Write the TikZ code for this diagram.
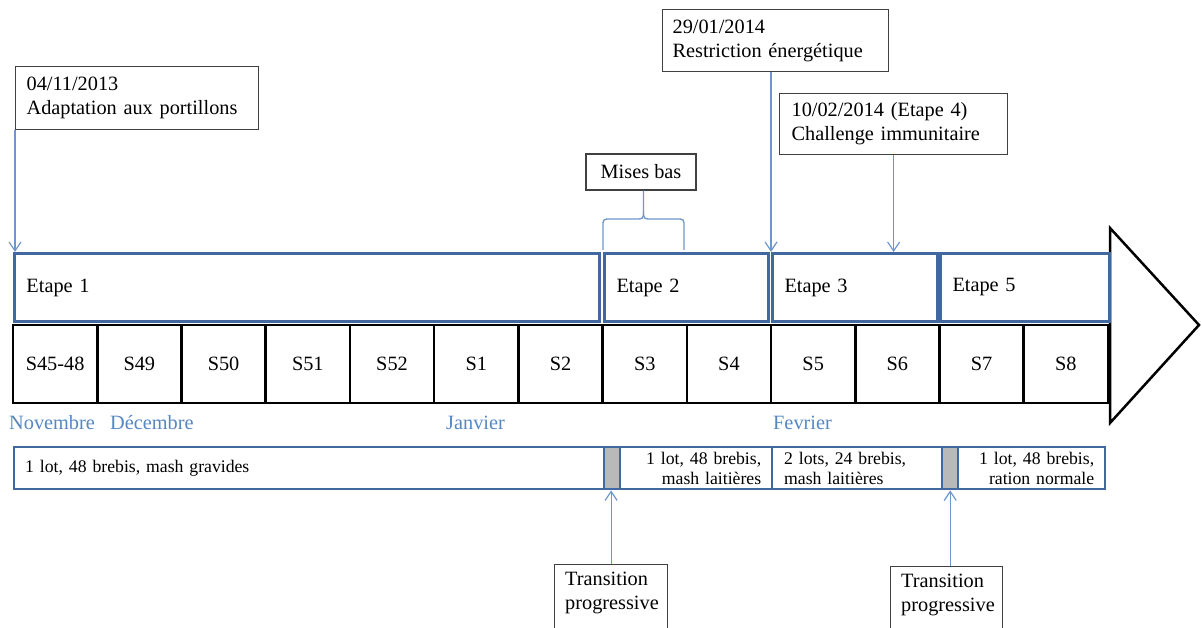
\documentclass[tikz,border=0pt]{standalone}
\usepackage{fontspec}
\setmainfont{Liberation Serif}
\newfontfamily\tnr{Liberation Serif}
\usetikzlibrary{arrows.meta,calc}
\definecolor{stepblue}{RGB}{65,105,160}
\definecolor{arrblue}{RGB}{110,150,205}
\definecolor{monthblue}{RGB}{85,135,195}
\begin{document}
\begin{tikzpicture}[x=1pt,y=-1pt,
  every node/.style={font=\tnr\fontsize{20.3}{24}\selectfont},
  callout/.style={draw=black!75, line width=1.2pt, align=left, anchor=north west, inner ysep=0pt},
  etape/.style={draw=stepblue, line width=3pt, anchor=north west, inner xsep=12pt, minimum height=68pt, align=left},
  week/.style={draw=black, line width=2.6pt, minimum width=84.23pt, minimum height=78pt},
  month/.style={text=monthblue, anchor=west, inner sep=0pt},
  lot/.style={draw=stepblue, line width=2.4pt, anchor=north west, minimum height=42pt, inner xsep=11pt, inner ysep=0pt, font=\tnr\fontsize{17.7}{20}\selectfont},
  greybox/.style={draw=stepblue, line width=2.4pt, fill=gray!55, anchor=north west, minimum width=16pt, minimum height=42pt, inner sep=0pt},
  arr/.style={draw=arrblue, line width=1.2pt, -{Straight Barb[length=9pt,width=12pt]}},
  brace/.style={draw=arrblue, line width=1.3pt}]
\useasboundingbox (0,0) rectangle (1202,628);
\clip (0,0) rectangle (1202,628);

% big arrow head
\draw[black, line width=2.5pt, fill=white] (1110,228) -- (1199,325) -- (1110,423) -- cycle;

% callouts
\node[callout, text width=221pt, inner xsep=11pt, minimum height=63pt] (a) at (15,66) {04/11/2013\\Adaptation aux portillons};
\node[callout, text width=206pt, inner xsep=10pt, minimum height=62pt] (r) at (662,9) {29/01/2014\\Restriction énergétique};
\node[callout, text width=204pt, inner xsep=12pt, minimum height=61pt] (c) at (779,93) {10/02/2014 (Etape 4)\\Challenge immunitaire};
\node[callout, anchor=center, align=center, inner xsep=0pt, minimum width=110pt, minimum height=36pt] (mb) at (641,172) {Mises bas};

% etapes
\node[etape, text width=561pt] (e1) at (13,252) {Etape 1};
\node[etape, text width=140pt] (e2) at (603,252) {Etape 2};
\node[etape, text width=141pt] (e3) at (771,252) {Etape 3};
\node[etape, text width=145pt] (e5) at (939,252) {Etape 5};

% weeks
\foreach \lab [count=\i from 0] in {S45-48,S49,S50,S51,S52,S1,S2,S3,S4,S5,S6,S7,S8}
  \node[week] (w\i) at ({13+84.23*(\i+0.5)},364) {\lab};

% months
\node[month] (m1) at (9,423) {Novembre};
\node[month] (m2) at (110,423) {Décembre};
\node[month] (m3) at (446,423) {Janvier};
\node[month] (m4) at (773,423) {Fevrier};

% lots
\node[lot, text width=568pt, align=left] (l1) at (13,446) {1 lot, 48 brebis, mash gravides};
\node[greybox] (g1) at (603,446) {};
\node[lot, text width=130pt, align=right] (l2) at (619,446) {1 lot, 48 brebis,\\mash laitières};
\node[lot, text width=146pt, inner xsep=12pt, align=left] (l3) at (771,446) {2 lots, 24 brebis,\\mash laitières};
\node[greybox] (g2) at (941,446) {};
\node[lot, text width=125pt, align=right] (l4) at (957,446) {1 lot, 48 brebis,\\ration normale};

% transition boxes
\node[draw=black!75, line width=1.2pt, anchor=north west, minimum width=113pt, minimum height=80pt, inner sep=0pt] (t1) at (554,564) {};
\node[anchor=north west, align=left, inner sep=0pt] (t1l) at ($(t1.north west)+(11,8)$) {Transition\\progressive};
\node[draw=black!75, line width=1.2pt, anchor=north west, minimum width=112pt, minimum height=80pt, inner sep=0pt] (t2) at (890,566) {};
\node[anchor=north west, align=left, inner sep=0pt] (t2l) at ($(t2.north west)+(11,8)$) {Transition\\progressive};

% arrows
\draw[arr] (a.south west) -- (a.south west |- e1.north);
\draw[arr] (r.south -| e3.north west) -- (e3.north west);
\draw[arr] (c.south) -- (c.south |- e3.north);
\draw[arr] (t1.north) -- (t1.north |- g1.south);
\draw[arr] (g2.south |- t2.north) -- (g2.south);

% brace
\coordinate (bc) at (643.5,219);
\draw[brace] (603,250) -- (603,227) .. controls (603,219) .. (611,219) -- (635,219) .. controls (643.5,219) .. (643.5,211) -- (bc |- mb.south);
\draw[brace] (684,250) -- (684,227) .. controls (684,219) .. (676,219) -- (652,219) .. controls (643.5,219) .. (643.5,211);
\end{tikzpicture}
\end{document}
